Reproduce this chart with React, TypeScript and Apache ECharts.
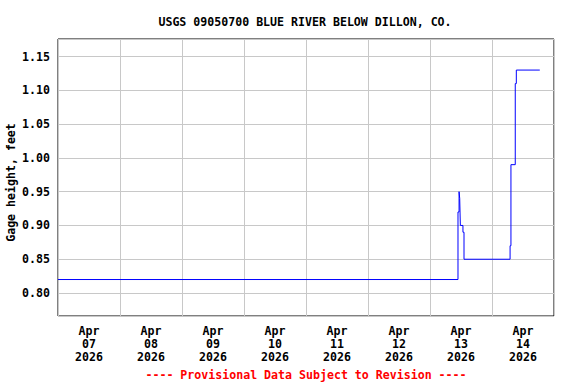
import React, { useEffect, useRef } from "react";
import * as echarts from "echarts";

const titleText = "USGS 09050700 BLUE RIVER BELOW DILLON, CO.";
const yAxisName = "Gage height, feet";
const footerText = "---- Provisional Data Subject to Revision ----";

// day labels (one per day band, Apr 07 .. Apr 14)
const dayLabels = ["Apr\n07\n2026", "Apr\n08\n2026", "Apr\n09\n2026", "Apr\n10\n2026", "Apr\n11\n2026", "Apr\n12\n2026", "Apr\n13\n2026", "Apr\n14\n2026"];

// observation times (change points) and gage heights
const obsTimes = [
  "2026-04-07 00:00",
  "2026-04-13 10:50",
  "2026-04-13 11:15",
  "2026-04-13 11:30",
  "2026-04-13 11:45",
  "2026-04-13 12:45",
  "2026-04-13 13:10",
  "2026-04-14 07:00",
  "2026-04-14 07:20",
  "2026-04-14 09:00",
  "2026-04-14 09:25",
  "2026-04-14 18:30",
];
const gageHeight = [0.82, 0.92, 0.95, 0.94, 0.9, 0.89, 0.85, 0.87, 0.99, 1.11, 1.13, 1.13];

const startTime = "2026-04-07 00:00";
const endTime = "2026-04-15 00:00";

function toMs(s: string): number {
  const [d, t] = s.split(" ");
  const [y, m, dd] = d.split("-").map(Number);
  const [hh, mm] = t.split(":").map(Number);
  return Date.UTC(y, m - 1, dd, hh, mm);
}
function hoursFromStart(s: string): number {
  return (toMs(s) - toMs(startTime)) / 3600000;
}

const FONT = "'DejaVu Sans Mono', monospace";

export default function App() {
  const ref = useRef<HTMLDivElement>(null);
  useEffect(() => {
    if (!ref.current) return;
    const chart = echarts.init(ref.current, undefined, { renderer: "svg" });
    const data = obsTimes.map((t, i) => [hoursFromStart(t), gageHeight[i]]);
    chart.setOption({
      animation: false,
      backgroundColor: "#ffffff",
      title: {
        text: titleText,
        left: 300,
        textAlign: "center",
        top: 11,
        textStyle: { fontFamily: FONT, fontSize: 11.6, fontWeight: "bold", color: "#000" },
      },
      grid: {
        left: 58,
        right: 22,
        top: 39,
        bottom: 68,
        show: true,
        borderColor: "#000",
        borderWidth: 1,
        backgroundColor: "transparent",
        containLabel: false,
        outerBoundsMode: "none",
      },
      xAxis: [
        {
          type: "value",
          min: 0,
          max: hoursFromStart(endTime),
          interval: 24,
          axisLine: { show: false },
          axisTick: { show: false },
          axisLabel: { show: false },
          splitLine: { show: true, lineStyle: { color: "#c8c8c8", width: 1 } },
        },
        {
          type: "category",
          position: "bottom",
          data: dayLabels,
          boundaryGap: true,
          axisLine: { show: false },
          axisTick: { show: false },
          splitLine: { show: false },
          axisLabel: {
            interval: 0,
            margin: 8,
            fontFamily: FONT,
            fontSize: 11.6,
            fontWeight: "bold",
            color: "#000",
            lineHeight: 13,
          },
        },
      ],
      yAxis: {
        type: "value",
        min: 0.766,
        max: 1.176,
        splitNumber: 8,
        name: yAxisName,
        nameLocation: "middle",
        nameGap: 41,
        nameMoveOverlap: false,
        nameTextStyle: {
          fontFamily: FONT,
          fontSize: 11.6,
          fontWeight: "bold",
          color: "#000",
          padding: [0, 10, 0, 0],
        },
        axisLine: { show: false },
        axisTick: { show: false },
        axisLabel: {
          showMinLabel: false,
          showMaxLabel: false,
          margin: 8,
          fontFamily: FONT,
          fontSize: 11.6,
          fontWeight: "bold",
          color: "#000",
          formatter: (v: number) => v.toFixed(2),
        },
        splitLine: { show: true, lineStyle: { color: "#c8c8c8", width: 1 } },
      },
      series: [
        {
          type: "line",
          xAxisIndex: 0,
          data,
          step: "end",
          showSymbol: false,
          lineStyle: { color: "#0000ff", width: 1 },
          z: 5,
        },
      ],
      graphic: [
        {
          type: "text",
          x: 306,
          y: 375,
          style: {
            text: footerText,
            fill: "#ff0000",
            font: `bold 11.6px ${FONT}`,
            textAlign: "center",
            textVerticalAlign: "middle",
          },
        },
      ],
    });
    return () => chart.dispose();
  }, []);
  return (
    <div
      ref={ref}
      style={{ position: "fixed", left: 0, top: 0, width: 576, height: 384, background: "#fff" }}
    />
  );
}
